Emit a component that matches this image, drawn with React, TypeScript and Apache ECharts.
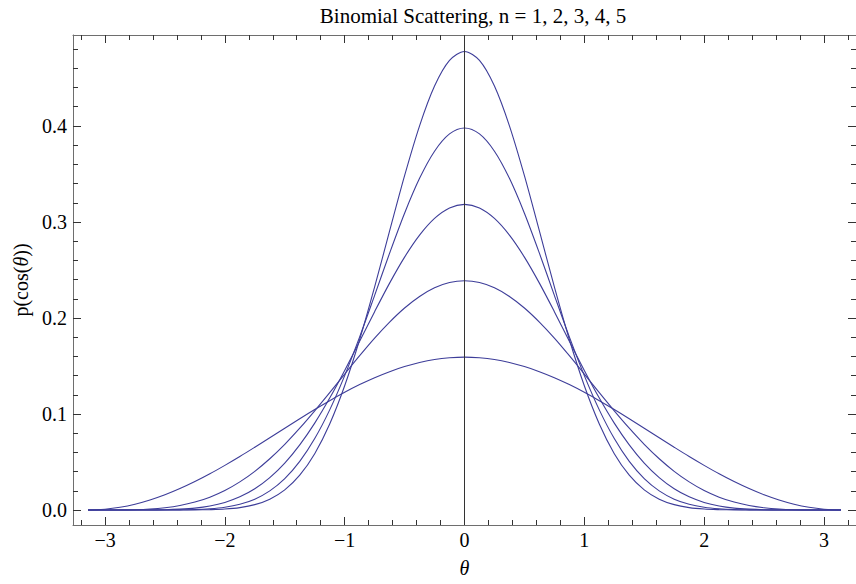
import React, { useEffect, useRef } from "react";
import * as echarts from "echarts";

const theta = [-3.1416, -3.125, -3, -2.875, -2.75, -2.625, -2.5, -2.375, -2.25, -2.125, -2, -1.875, -1.75, -1.625, -1.5, -1.375, -1.25, -1.125, -1, -0.875, -0.75, -0.625, -0.5, -0.375, -0.25, -0.125, 0, 0.125, 0.25, 0.375, 0.5, 0.625, 0.75, 0.875, 1, 1.125, 1.25, 1.375, 1.5, 1.625, 1.75, 1.875, 2, 2.125, 2.25, 2.375, 2.5, 2.625, 2.75, 2.875, 3, 3.125, 3.1416];
const n1 = [0, 0.0, 0.0008, 0.0028, 0.006, 0.0104, 0.0158, 0.0223, 0.0296, 0.0377, 0.0465, 0.0557, 0.0654, 0.0753, 0.0852, 0.0951, 0.1047, 0.1139, 0.1226, 0.1306, 0.1378, 0.1441, 0.1494, 0.1536, 0.1567, 0.1585, 0.1592, 0.1585, 0.1567, 0.1536, 0.1494, 0.1441, 0.1378, 0.1306, 0.1226, 0.1139, 0.1047, 0.0951, 0.0852, 0.0753, 0.0654, 0.0557, 0.0465, 0.0377, 0.0296, 0.0223, 0.0158, 0.0104, 0.006, 0.0028, 0.0008, 0.0, 0];
const n2 = [0, 0, 0.0, 0.0001, 0.0003, 0.001, 0.0024, 0.0047, 0.0083, 0.0134, 0.0203, 0.0293, 0.0403, 0.0534, 0.0684, 0.0852, 0.1033, 0.1222, 0.1416, 0.1607, 0.179, 0.1957, 0.2104, 0.2224, 0.2314, 0.2369, 0.2387, 0.2369, 0.2314, 0.2224, 0.2104, 0.1957, 0.179, 0.1607, 0.1416, 0.1222, 0.1033, 0.0852, 0.0684, 0.0534, 0.0403, 0.0293, 0.0203, 0.0134, 0.0083, 0.0047, 0.0024, 0.001, 0.0003, 0.0001, 0.0, 0, 0];
const n3 = [0, 0, 0, 0, 0, 0.0001, 0.0003, 0.0009, 0.002, 0.0042, 0.0079, 0.0137, 0.0221, 0.0337, 0.0488, 0.0678, 0.0905, 0.1166, 0.1454, 0.1758, 0.2066, 0.2363, 0.2634, 0.2863, 0.3037, 0.3146, 0.3183, 0.3146, 0.3037, 0.2863, 0.2634, 0.2363, 0.2066, 0.1758, 0.1454, 0.1166, 0.0905, 0.0678, 0.0488, 0.0337, 0.0221, 0.0137, 0.0079, 0.0042, 0.002, 0.0009, 0.0003, 0.0001, 0, 0, 0, 0, 0];
const n4 = [0, 0, 0, 0, 0, 0, 0, 0.0002, 0.0005, 0.0013, 0.0029, 0.006, 0.0113, 0.0199, 0.0327, 0.0506, 0.0744, 0.1043, 0.14, 0.1803, 0.2236, 0.2675, 0.3091, 0.3454, 0.3737, 0.3917, 0.3979, 0.3917, 0.3737, 0.3454, 0.3091, 0.2675, 0.2236, 0.1803, 0.14, 0.1043, 0.0744, 0.0506, 0.0327, 0.0199, 0.0113, 0.006, 0.0029, 0.0013, 0.0005, 0.0002, 0, 0, 0, 0, 0, 0, 0];
const n5 = [0, 0, 0, 0, 0, 0, 0, 0, 0.0001, 0.0004, 0.001, 0.0025, 0.0056, 0.0113, 0.021, 0.0363, 0.0587, 0.0896, 0.1294, 0.1776, 0.2324, 0.2906, 0.3482, 0.4001, 0.4415, 0.4682, 0.4775, 0.4682, 0.4415, 0.4001, 0.3482, 0.2906, 0.2324, 0.1776, 0.1294, 0.0896, 0.0587, 0.0363, 0.021, 0.0113, 0.0056, 0.0025, 0.001, 0.0004, 0.0001, 0, 0, 0, 0, 0, 0, 0, 0];
const seriesList = [n1, n2, n3, n4, n5];

const xMajor = [-3, -2, -1, 0, 1, 2, 3];
const xMinor = [-3.2, -2.8, -2.6, -2.4, -2.2, -1.8, -1.6, -1.4, -1.2, -0.8, -0.6, -0.4, -0.2, 0.2, 0.4, 0.6, 0.8, 1.2, 1.4, 1.6, 1.8, 2.2, 2.4, 2.6, 2.8, 3.2];
const yMajor = [0, 0.1, 0.2, 0.3, 0.4];
const yMinor = [0.02, 0.04, 0.06, 0.08, 0.12, 0.14, 0.16, 0.18, 0.22, 0.24, 0.26, 0.28, 0.32, 0.34, 0.36, 0.38, 0.42, 0.44, 0.46, 0.48];

const title = "Binomial Scattering, n = 1, 2, 3, 4, 5";
const xName = "θ";
const yName = "p(cos({i|θ}))";

const FONT = "Liberation Serif";
const FS = 20;
const FRAME = "#6e6e6e";
const TICK = "#333333";
const LINE = "#3d3d99";
const X_MIN = -3.2673, X_MAX = 3.2673;
const Y_MIN = -0.0156, Y_MAX = 0.4947;

export default function App() {
  const ref = useRef<HTMLDivElement>(null);
  useEffect(() => {
    if (!ref.current) return;
    const chart = echarts.init(ref.current, null, { renderer: "svg" });
    const xAxisBase = (position: string, ticks: number[], len: number, labels: boolean, showLine: boolean, name?: string) => ({
      type: "value",
      position,
      offset: 0,
      min: X_MIN,
      max: X_MAX,
      splitLine: { show: false },
      axisLine: { show: showLine, onZero: false, lineStyle: { color: FRAME, width: 1 } },
      axisTick: { show: true, inside: true, length: len, customValues: ticks, lineStyle: { color: TICK, width: 1 } },
      axisLabel: labels
        ? { show: true, customValues: ticks, margin: 5, fontFamily: FONT, fontSize: FS, color: "#000",
            formatter: (v: number) => (v < 0 ? "\u2212" + Math.abs(v) : String(v)) }
        : { show: false },
      name: name || "",
      nameLocation: "middle",
      nameGap: 33,
      nameTextStyle: { fontFamily: FONT, fontSize: FS, fontStyle: "italic", color: "#000" },
    });
    const yAxisBase = (position: string, ticks: number[], len: number, labels: boolean, showLine: boolean, name?: string) => ({
      type: "value",
      position,
      offset: 0,
      min: Y_MIN,
      max: Y_MAX,
      splitLine: { show: false },
      axisLine: { show: showLine, onZero: false, lineStyle: { color: FRAME, width: 1 } },
      axisTick: { show: true, inside: true, length: len, customValues: ticks, lineStyle: { color: TICK, width: 1 } },
      axisLabel: labels
        ? { show: true, customValues: ticks, margin: 6, fontFamily: FONT, fontSize: FS, color: "#000",
            formatter: (v: number) => v.toFixed(1) }
        : { show: false },
      name: name || "",
      nameLocation: "middle",
      nameGap: 42,
      nameRotate: 90,
      nameTextStyle: {
        fontFamily: FONT, fontSize: FS, color: "#000",
        rich: { i: { fontFamily: FONT, fontSize: FS, fontStyle: "italic", color: "#000" } },
      },
    });
    chart.setOption({
      animation: false,
      backgroundColor: "#ffffff",
      title: {
        text: title,
        left: 468,
        textAlign: "center",
        top: 0,
        textStyle: { fontFamily: FONT, fontSize: 21, fontWeight: "normal", color: "#000" },
      },
      grid: { left: 73, top: 35, width: 791, height: 490, containLabel: false },
      xAxis: [
        xAxisBase("bottom", xMajor, 8, true, true, xName),
        xAxisBase("bottom", xMinor, 5, false, false),
        xAxisBase("top", xMajor, 8, false, true),
        xAxisBase("top", xMinor, 5, false, false),
      ],
      yAxis: [
        yAxisBase("left", yMajor, 8, true, true, yName),
        yAxisBase("left", yMinor, 5, false, false),
        yAxisBase("right", yMajor, 8, false, true),
        yAxisBase("right", yMinor, 5, false, false),
      ],
      series: [
        ...seriesList.map((vals, i) => ({
          type: "line",
          name: "n" + (i + 1),
          xAxisIndex: 0,
          yAxisIndex: 0,
          data: theta.map((t, j) => [t, vals[j]]),
          smooth: 0.3,
          showSymbol: false,
          symbol: "none",
          lineStyle: { color: LINE, width: 1.1 },
          z: 3,
        })),
        {
          type: "line",
          xAxisIndex: 0,
          yAxisIndex: 0,
          data: [],
          markLine: {
            silent: true,
            symbol: "none",
            label: { show: false },
            lineStyle: { color: "#333333", width: 1, type: "solid" },
            data: [{ xAxis: 0 }],
          },
          z: 2,
        },
      ],
    });
    return () => chart.dispose();
  }, []);
  return <div ref={ref} style={{ position: "fixed", left: 0, top: 0, width: 856, height: 584, background: "#fff" }} />;
}
